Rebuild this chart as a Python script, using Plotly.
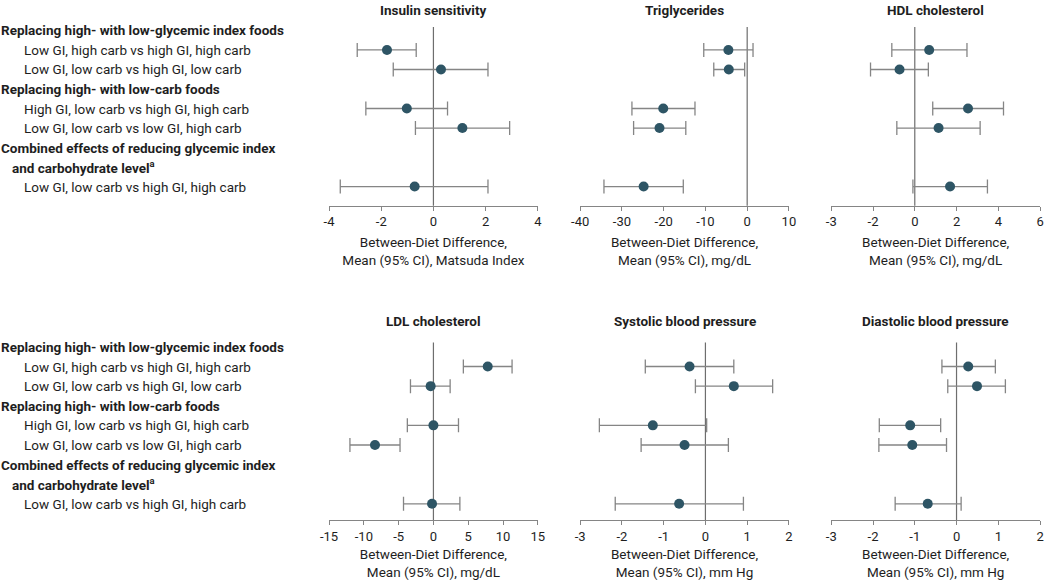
import plotly.graph_objects as go

# ---------------- data ----------------
row_cats = [
    "Replacing high- with low-glycemic index foods",
    "Low GI, high carb vs high GI, high carb",
    "Low GI, low carb vs high GI, low carb",
    "Replacing high- with low-carb foods",
    "High GI, low carb vs high GI, high carb",
    "Low GI, low carb vs low GI, high carb",
    "Combined effects of reducing glycemic index",
    "and carbohydrate level<sup>a</sup>",
    "Low GI, low carb vs high GI, high carb",
]
header_rows = [0, 3, 6, 7]
comparisons = [
    "Low GI, high carb vs high GI, high carb",
    "Low GI, low carb vs high GI, low carb",
    "High GI, low carb vs high GI, high carb",
    "Low GI, low carb vs low GI, high carb",
    "Low GI, low carb vs high GI, high carb",
]

titles = ["Insulin sensitivity", "Triglycerides", "HDL cholesterol",
          "LDL cholesterol", "Systolic blood pressure", "Diastolic blood pressure"]
units = ["Matsuda Index", "mg/dL", "mg/dL", "mg/dL", "mm Hg", "mm Hg"]

insulin_mean = [-1.78, 0.29, -1.02, 1.11, -0.72]
insulin_lo = [-2.92, -1.54, -2.59, -0.69, -3.57]
insulin_hi = [-0.66, 2.09, 0.54, 2.92, 2.09]

trig_mean = [-4.5, -4.4, -20.1, -21.0, -24.8]
trig_lo = [-10.4, -8.0, -27.6, -27.2, -34.3]
trig_hi = [1.4, -0.6, -12.5, -14.7, -15.3]

hdl_mean = [0.69, -0.73, 2.55, 1.14, 1.69]
hdl_lo = [-1.1, -2.12, 0.86, -0.86, -0.09]
hdl_hi = [2.5, 0.65, 4.25, 3.13, 3.48]

ldl_mean = [7.8, -0.4, 0.0, -8.4, -0.2]
ldl_lo = [4.3, -3.3, -3.75, -12.0, -4.3]
ldl_hi = [11.3, 2.4, 3.6, -4.8, 3.8]

sbp_mean = [-0.38, 0.68, -1.26, -0.5, -0.63]
sbp_lo = [-1.44, -0.24, -2.54, -1.54, -2.16]
sbp_hi = [0.68, 1.61, 0.03, 0.55, 0.91]

dbp_mean = [0.28, 0.49, -1.11, -1.06, -0.69]
dbp_lo = [-0.35, -0.21, -1.85, -1.86, -1.47]
dbp_hi = [0.93, 1.17, -0.38, -0.24, 0.11]

tick_vals = [
    [-4, -2, 0, 2, 4],
    [-40, -30, -20, -10, 0, 10],
    [-4, -2, 0, 2, 4, 6],
    [-15, -10, -5, 0, 5, 10, 15],
    [-3, -2, -1, 0, 1, 2],
    [-3, -2, -1, 0, 1, 2],
]
tick_text = [
    ["-4", "-2", "0", "2", "4"],
    ["-40", "-30", "-20", "-10", "0", "10"],
    ["-3", "-2", "0", "2", "4", "6"],
    ["-15", "-10", "-5", "0", "5", "10", "15"],
    ["-3", "-2", "-1", "0", "1", "2"],
    ["-3", "-2", "-1", "0", "1", "2"],
]

means = [insulin_mean, trig_mean, hdl_mean, ldl_mean, sbp_mean, dbp_mean]
los = [insulin_lo, trig_lo, hdl_lo, ldl_lo, sbp_lo, dbp_lo]
his = [insulin_hi, trig_hi, hdl_hi, ldl_hi, sbp_hi, dbp_hi]

# ---------------- layout ----------------
W, H = 1050, 580
FONT = "Roboto, Liberation Sans, sans-serif"
TXT = "#1e1e1e"
GRAY = "#858585"
DOT = "#2e5565"
LBL = 13.5
XOFF = -10  # annotation text offset correction (px)

col_px = [(325, 537), (580, 792), (835, 1047)]
# (top_px, slot0_px, spacing, axis_px, title_px)
row_geo = [(27, 30.5, 19.55, 206, 10), (343, 347.5, 19.65, 521, 322)]

fig = go.Figure()
annotations = []
shapes = []
layout = {}

for i in range(6):
    r, c = divmod(i, 3)
    n = i + 1
    xs = "x" if n == 1 else f"x{n}"
    ys = "y" if n == 1 else f"y{n}"
    xa = "xaxis" if n == 1 else f"xaxis{n}"
    ya = "yaxis" if n == 1 else f"yaxis{n}"
    top, s0, sp, ax, tpx = row_geo[r]
    x0, x1 = col_px[c]
    m, lo, hi = means[i], los[i], his[i]
    fig.add_trace(go.Scatter(
        x=m, y=comparisons, mode="markers", xaxis=xs, yaxis=ys,
        marker=dict(size=10, color=DOT),
        error_x=dict(type="data", symmetric=False,
                     array=[h - v for h, v in zip(hi, m)],
                     arrayminus=[v - l for v, l in zip(m, lo)],
                     color=GRAY, thickness=1.3, width=7),
        showlegend=False, hoverinfo="x+y",
    ))
    tv = tick_vals[i]
    layout[xa] = dict(
        domain=[x0 / W, x1 / W], anchor=ys, range=[tv[0], tv[-1]],
        tickmode="array", tickvals=tv, ticktext=tick_text[i],
        showline=True, linecolor=GRAY, linewidth=1.3,
        ticks="outside", ticklen=4, tickwidth=1.3, tickcolor=GRAY,
        showgrid=False, zeroline=False,
        tickfont=dict(family=FONT, size=13, color=TXT),
        title=dict(text=f"Between-Diet Difference,<br>Mean (95% CI), {units[i]}",
                   font=dict(family=FONT, size=13.5, color=TXT), standoff=9),
    )
    layout[ya] = dict(
        domain=[1 - ax / H, 1 - top / H], anchor=xs,
        type="category", categoryorder="array", categoryarray=row_cats,
        range=[(ax - s0) / sp, (top - s0) / sp],
        showticklabels=False, showgrid=False, zeroline=False, showline=False,
        ticks="",
    )
    shapes.append(dict(type="line", xref=xs, yref=f"{ys} domain",
                       x0=0, x1=0, y0=0, y1=1, layer="below",
                       line=dict(color="#6e6e6e", width=1.2)))
    annotations.append(dict(
        text=f"<b>{titles[i]}</b>", xref="paper", yref="paper",
        x=(x0 + x1) / 2 / W, y=1 - tpx / H, xanchor="center", yanchor="middle",
        showarrow=False, font=dict(family=FONT, size=13.5, color=TXT)))

    if c == 0:
        for k, cat in enumerate(row_cats):
            is_head = k in header_rows
            indent = 0 if k in (0, 3, 6) else (11 if k == 7 else 23)
            annotations.append(dict(
                text=f"<b>{cat}</b>" if is_head else cat,
                xref="paper", yref=ys, x=(indent + XOFF) / W, y=cat,
                xanchor="left", yanchor="middle", showarrow=False,
                font=dict(family=FONT, size=LBL, color=TXT)))

fig.update_layout(
    width=W, height=H, margin=dict(l=0, r=0, t=0, b=0),
    paper_bgcolor="white", plot_bgcolor="white",
    annotations=annotations, shapes=shapes, **layout,
)
fig.write_html("out.html", config={"displayModeBar": False},
               post_script="document.body.style.margin='0';")
